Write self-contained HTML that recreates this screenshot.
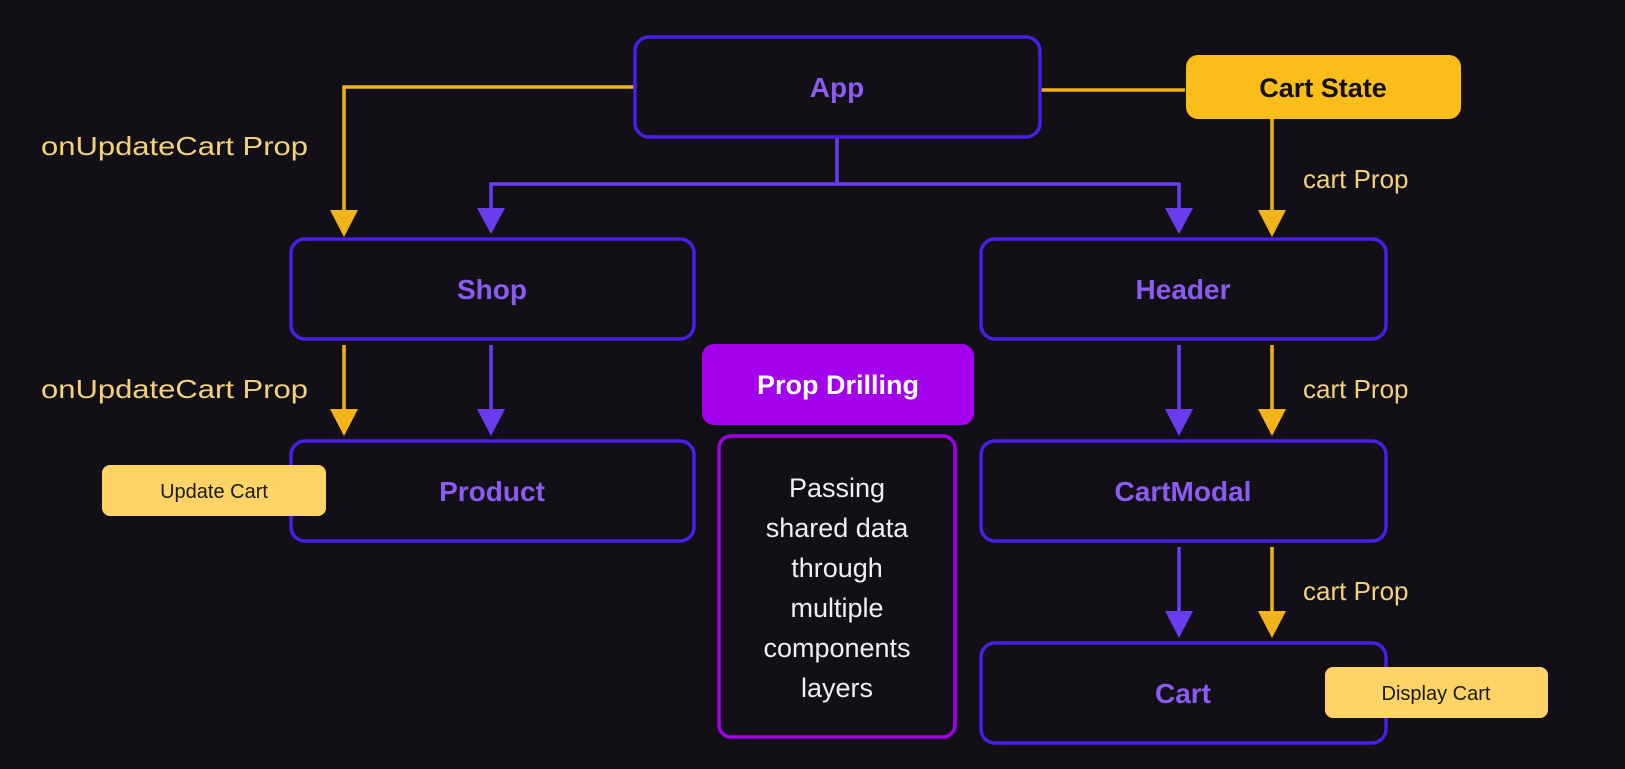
<!DOCTYPE html>
<html><head><meta charset="utf-8"><style>
html,body{margin:0;padding:0;background:#121016;}
svg{display:block}
text{font-family:"Liberation Sans",sans-serif}
</style></head><body>
<svg width="1625" height="769" viewBox="0 0 1625 769" xmlns="http://www.w3.org/2000/svg">
<rect width="1625" height="769" fill="#121016"/>
<g fill="none" stroke-width="3.5">
<path d="M634 87 H344 V222" stroke="#f2b31a"/>
<path d="M1041 90 H1185" stroke="#f2b31a"/>
<path d="M1272 119 V222" stroke="#f2b31a"/>
<path d="M344 345 V421" stroke="#f2b31a"/>
<path d="M1272 345 V421" stroke="#f2b31a"/>
<path d="M1272 547 V623" stroke="#f2b31a"/>
<path d="M837 138 V184 M491 222 V184 H1179 V222" stroke="#6a3cf0"/>
<path d="M491 345 V421" stroke="#6a3cf0"/>
<path d="M1179 345 V421" stroke="#6a3cf0"/>
<path d="M1179 547 V623" stroke="#6a3cf0"/>
</g>
<g fill="#f2b31a">
<polygon points="330,210 358,210 344,237"/>
<polygon points="1258,210 1286,210 1272,237"/>
<polygon points="330,409 358,409 344,436"/>
<polygon points="1258,409 1286,409 1272,436"/>
<polygon points="1258,611 1286,611 1272,638"/>
</g>
<g fill="#6a3cf0">
<polygon points="477,208 505,208 491,234"/>
<polygon points="1165,208 1193,208 1179,234"/>
<polygon points="477,409 505,409 491,436"/>
<polygon points="1165,409 1193,409 1179,436"/>
<polygon points="1165,611 1193,611 1179,638"/>
</g>
<g fill="#121016" stroke="#4a1ee6" stroke-width="3.5">
<rect x="635" y="37" width="405" height="100" rx="14"/>
<rect x="291" y="239" width="403" height="100" rx="14"/>
<rect x="981" y="239" width="405" height="100" rx="14"/>
<rect x="291" y="441" width="403" height="100" rx="14"/>
<rect x="981" y="441" width="405" height="100" rx="14"/>
<rect x="981" y="643" width="405" height="100" rx="14"/>
</g>
<rect x="1186" y="55" width="275" height="64" rx="12" fill="#fbbe19"/>
<rect x="702" y="344" width="272" height="81" rx="12" fill="#a300ee"/>
<rect x="719" y="436" width="236" height="301" rx="12" fill="none" stroke="#a100e6" stroke-width="3.5"/>
<rect x="102" y="465" width="224" height="51" rx="8" fill="#fdd465"/>
<rect x="1325" y="667" width="223" height="51" rx="8" fill="#fdd465"/>
<g font-weight="bold" font-size="28" fill="#8c5cf2" text-anchor="middle">
<text x="837" y="97">App</text>
<text x="492" y="299">Shop</text>
<text x="1183" y="299">Header</text>
<text x="492" y="501">Product</text>
<text x="1183" y="501">CartModal</text>
<text x="1183" y="703">Cart</text>
</g>
<text x="1323" y="97" font-weight="bold" font-size="27" fill="#111" text-anchor="middle">Cart State</text>
<text x="838" y="394" font-weight="bold" font-size="27" fill="#fff" text-anchor="middle">Prop Drilling</text>
<g font-size="27" fill="#f0f0f0" text-anchor="middle">
<text x="837" y="497">Passing</text>
<text x="837" y="537">shared data</text>
<text x="837" y="577">through</text>
<text x="837" y="617">multiple</text>
<text x="837" y="657">components</text>
<text x="837" y="697">layers</text>
</g>
<g font-size="20" fill="#1a1a1a" text-anchor="middle">
<text x="214" y="498">Update Cart</text>
<text x="1436" y="700">Display Cart</text>
</g>
<g font-size="26" fill="#f4d27a">
<text x="41" y="155" textLength="267" lengthAdjust="spacingAndGlyphs">onUpdateCart Prop</text>
<text x="41" y="398" textLength="267" lengthAdjust="spacingAndGlyphs">onUpdateCart Prop</text>
<text x="1303" y="188">cart Prop</text>
<text x="1303" y="398">cart Prop</text>
<text x="1303" y="600">cart Prop</text>
</g>
</svg>
</body></html>
